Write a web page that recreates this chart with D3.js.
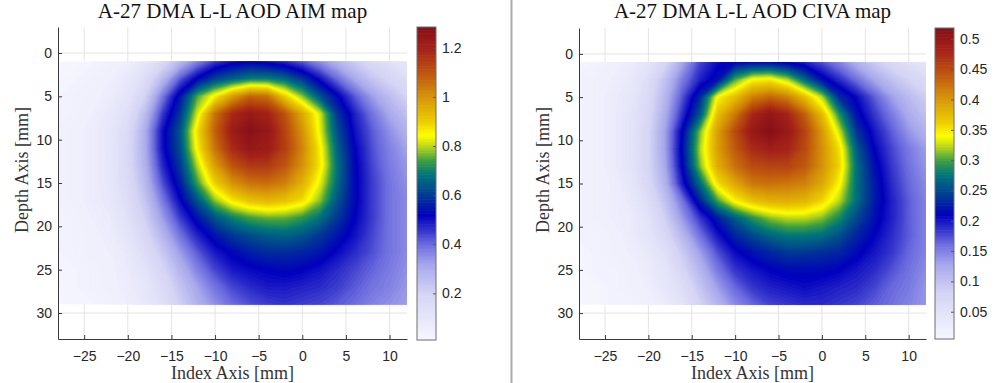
<!DOCTYPE html>
<html><head><meta charset="utf-8">
<script src="https://cdn.jsdelivr.net/npm/d3@7"></script>
<style>body{margin:0;background:#fff;} svg{display:block;}</style>
</head><body>
<svg id="c" width="1000" height="383"></svg>
<script>
// ---- data ----
const xCoords = [-28,-26,-24,-22,-20,-18,-16,-14,-12,-10,-8,-6,-4,-2,0,2,4,6,8,10,12]; // Index Axis [mm]
const yCoords = [1,3,5,7,9,11,13,15,17,19,21,23,25,27,29];                               // Depth Axis [mm]
const xTicks = [-25,-20,-15,-10,-5,0,5,10];
const yTicks = [0,5,10,15,20,25,30];

// AIM amplitude map, one row per depth in yCoords
const aimRows = [
 [0.02,0.02,0.03,0.04,0.06,0.10,0.17,0.27,0.37,0.45,0.50,0.52,0.50,0.47,0.42,0.35,0.28,0.22,0.17,0.13,0.10],
 [0.02,0.03,0.04,0.06,0.09,0.15,0.27,0.42,0.53,0.62,0.66,0.70,0.70,0.67,0.60,0.50,0.40,0.31,0.24,0.19,0.15],
 [0.03,0.04,0.05,0.07,0.11,0.20,0.38,0.55,0.75,0.86,0.98,1.07,1.05,0.90,0.78,0.64,0.53,0.42,0.33,0.26,0.20],
 [0.03,0.04,0.06,0.09,0.14,0.26,0.45,0.60,0.82,1.05,1.18,1.23,1.20,1.10,0.96,0.82,0.60,0.48,0.39,0.31,0.25],
 [0.04,0.05,0.07,0.10,0.16,0.30,0.50,0.64,0.88,1.08,1.22,1.28,1.24,1.13,1.00,0.83,0.63,0.50,0.42,0.35,0.29],
 [0.04,0.05,0.07,0.10,0.17,0.30,0.50,0.63,0.86,1.05,1.18,1.24,1.22,1.14,1.02,0.86,0.66,0.52,0.43,0.37,0.32],
 [0.04,0.05,0.07,0.10,0.17,0.29,0.47,0.60,0.80,0.98,1.10,1.15,1.15,1.10,1.00,0.87,0.68,0.53,0.44,0.38,0.34],
 [0.04,0.05,0.07,0.10,0.16,0.27,0.43,0.56,0.74,0.90,1.00,1.05,1.06,1.03,0.95,0.83,0.67,0.53,0.45,0.39,0.35],
 [0.04,0.05,0.07,0.09,0.15,0.24,0.38,0.51,0.64,0.78,0.87,0.92,0.94,0.92,0.88,0.78,0.64,0.53,0.45,0.39,0.36],
 [0.03,0.04,0.06,0.08,0.13,0.21,0.33,0.45,0.55,0.64,0.70,0.74,0.76,0.76,0.73,0.68,0.60,0.52,0.45,0.39,0.36],
 [0.03,0.04,0.05,0.07,0.11,0.18,0.28,0.39,0.48,0.55,0.60,0.63,0.65,0.66,0.64,0.60,0.55,0.50,0.44,0.39,0.36],
 [0.03,0.04,0.05,0.06,0.09,0.15,0.23,0.33,0.42,0.49,0.53,0.56,0.58,0.58,0.57,0.55,0.51,0.47,0.43,0.39,0.36],
 [0.03,0.03,0.04,0.05,0.08,0.12,0.19,0.28,0.37,0.44,0.49,0.51,0.52,0.53,0.52,0.50,0.47,0.44,0.41,0.38,0.35],
 [0.02,0.03,0.04,0.05,0.07,0.10,0.16,0.24,0.32,0.39,0.44,0.47,0.49,0.49,0.48,0.47,0.45,0.42,0.39,0.37,0.34],
 [0.02,0.03,0.03,0.04,0.06,0.09,0.14,0.21,0.29,0.35,0.40,0.43,0.45,0.46,0.45,0.44,0.42,0.40,0.37,0.35,0.33]
];

// CIVA amplitude map, one row per depth in yCoords
const civaRows = [
 [0.010,0.015,0.020,0.031,0.046,0.077,0.128,0.179,0.205,0.215,0.220,0.220,0.210,0.195,0.174,0.149,0.118,0.092,0.072,0.056,0.046],
 [0.015,0.020,0.026,0.036,0.061,0.102,0.154,0.195,0.220,0.303,0.344,0.349,0.323,0.272,0.220,0.190,0.159,0.128,0.102,0.082,0.067],
 [0.015,0.020,0.031,0.041,0.067,0.113,0.174,0.236,0.344,0.374,0.415,0.431,0.415,0.374,0.323,0.236,0.205,0.169,0.133,0.108,0.087],
 [0.015,0.020,0.031,0.046,0.072,0.123,0.190,0.262,0.374,0.420,0.477,0.503,0.482,0.436,0.374,0.292,0.220,0.185,0.154,0.123,0.102],
 [0.015,0.020,0.031,0.046,0.077,0.133,0.215,0.313,0.395,0.450,0.497,0.518,0.497,0.456,0.400,0.328,0.241,0.200,0.169,0.138,0.118],
 [0.015,0.020,0.031,0.046,0.077,0.133,0.220,0.323,0.395,0.440,0.475,0.487,0.482,0.451,0.405,0.354,0.262,0.210,0.179,0.154,0.133],
 [0.015,0.020,0.031,0.046,0.077,0.128,0.215,0.313,0.385,0.425,0.450,0.455,0.456,0.441,0.405,0.359,0.272,0.220,0.185,0.159,0.138],
 [0.015,0.020,0.026,0.041,0.072,0.118,0.200,0.272,0.354,0.390,0.420,0.425,0.421,0.415,0.390,0.344,0.272,0.226,0.190,0.164,0.144],
 [0.015,0.020,0.026,0.036,0.061,0.102,0.159,0.231,0.300,0.345,0.370,0.382,0.385,0.379,0.359,0.323,0.272,0.226,0.195,0.169,0.149],
 [0.015,0.020,0.026,0.031,0.051,0.087,0.138,0.185,0.226,0.262,0.292,0.313,0.323,0.323,0.313,0.287,0.251,0.220,0.195,0.169,0.149],
 [0.015,0.015,0.020,0.031,0.046,0.072,0.113,0.159,0.200,0.231,0.251,0.267,0.277,0.277,0.272,0.256,0.231,0.210,0.190,0.169,0.149],
 [0.010,0.015,0.020,0.026,0.036,0.056,0.092,0.133,0.174,0.205,0.220,0.231,0.241,0.241,0.236,0.231,0.215,0.200,0.185,0.164,0.149],
 [0.010,0.015,0.015,0.020,0.031,0.046,0.077,0.113,0.154,0.185,0.200,0.210,0.215,0.215,0.215,0.210,0.200,0.190,0.174,0.159,0.144],
 [0.010,0.010,0.015,0.020,0.026,0.041,0.061,0.097,0.133,0.164,0.185,0.195,0.200,0.205,0.200,0.195,0.190,0.179,0.164,0.154,0.138],
 [0.010,0.010,0.015,0.015,0.020,0.031,0.051,0.082,0.113,0.144,0.164,0.179,0.185,0.190,0.190,0.185,0.179,0.169,0.159,0.149,0.138]
];

const aimLimits = [0.01, 1.285];
const civaLimits = [0.005, 0.518];
const aimBarTicks = [0.2,0.4,0.6,0.8,1,1.2];
const aimBarLabels = ["0.2","0.4","0.6","0.8","1","1.2"];
const civaBarTicks = [0.05,0.1,0.15,0.2,0.25,0.3,0.35,0.4,0.45,0.5];
const civaBarLabels = ["0.05","0.1","0.15","0.2","0.25","0.3","0.35","0.4","0.45","0.5"];
const titles = ["A-27 DMA L-L AOD AIM map", "A-27 DMA L-L AOD CIVA map"];

// colormap (fraction of colour range -> colour)
const cmapT = [0,0.15,0.24,0.31,0.345,0.40,0.46,0.53,0.575,0.62,0.655,0.70,0.775,0.855,0.93,1];
const cmapC = ["#f7f7ff","#d4d4f5","#a8a8ec","#6969de","#3c3ccd","#0000be","#003796","#00767d","#3ca046","#b9d71e","#ffff00","#ebcd00","#d7960a","#be550f","#a52319","#870f19"];

// ---- drawing ----
const svg = d3.select("#c");
svg.append("rect").attr("width",1000).attr("height",383).attr("fill","#fff");
svg.append("line").attr("x1",511.5).attr("x2",511.5).attr("y1",0).attr("y2",383)
   .attr("stroke","#a9a9a9").attr("stroke-width",2);

const TICKFONT = "Arial, 'Liberation Sans', Helvetica, sans-serif";
const SERIF = "'Liberation Serif', 'DejaVu Serif', 'Times New Roman', serif";

const panels = [
  {id:"aim", rows:aimRows, limits:aimLimits, barTicks:aimBarTicks, barLabels:aimBarLabels, title:titles[0],
   L:58, R:407, T:27, B:339, cb:{L:417, R:436, T:27, B:340}},
  {id:"civa", rows:civaRows, limits:civaLimits, barTicks:civaBarTicks, barLabels:civaBarLabels, title:titles[1],
   L:579, R:926, T:28, B:339, cb:{L:935, R:954, T:28, B:339}}
];

panels.forEach(drawPanel);

function drawPanel(p){
  const g = svg.append("g");
  const x = d3.scaleLinear().domain([-28,12]).range([p.L,p.R]);
  const y = d3.scaleLinear().domain([-3,33]).range([p.T,p.B]);
  const [lo,hi] = p.limits;
  const color = d3.scaleLinear().domain(cmapT.map(t=>lo+t*(hi-lo))).range(cmapC)
                  .interpolate(d3.interpolateRgb).clamp(true);

  // grid
  g.append("g").selectAll("line").data(xTicks).join("line")
    .attr("x1",d=>x(d)).attr("x2",d=>x(d)).attr("y1",p.T).attr("y2",p.B)
    .attr("stroke","#e4e4e4").attr("stroke-width",1);
  g.append("g").selectAll("line").data(yTicks).join("line")
    .attr("y1",d=>y(d)).attr("y2",d=>y(d)).attr("x1",p.L).attr("x2",p.R)
    .attr("stroke","#e4e4e4").attr("stroke-width",1);

  // heat map via filled contours of the value grid
  const nx = xCoords.length, ny = yCoords.length;
  const gx = d3.scaleLinear().domain([0.5, nx-0.5]).range([xCoords[0], xCoords[nx-1]]);
  const gy = d3.scaleLinear().domain([0.5, ny-0.5]).range([yCoords[0], yCoords[ny-1]]);
  const clipId = "clip-"+p.id;
  g.append("clipPath").attr("id",clipId).append("rect")
    .attr("x",x(xCoords[0])).attr("y",y(yCoords[0]))
    .attr("width",x(xCoords[nx-1])-x(xCoords[0])).attr("height",y(yCoords[ny-1])-y(yCoords[0]));
  const values = p.rows.flat();
  const nLev = 180;
  const thresholds = d3.range(nLev).map(i=>lo+(hi-lo)*i/nLev);
  const contours = d3.contours().size([nx,ny]).thresholds(thresholds)(values);
  const proj = d3.geoTransform({point:function(a,b){ this.stream.point(x(gx(a)), y(gy(b))); }});
  const path = d3.geoPath(proj);
  g.append("g").attr("clip-path","url(#"+clipId+")")
    .selectAll("path").data(contours).join("path")
    .attr("d",path)
    .attr("fill",d=>color(d.value+(hi-lo)/nLev/2))
    .attr("stroke",d=>color(d.value+(hi-lo)/nLev/2)).attr("stroke-width",0.4);

  // axes
  const ax = g.append("g").attr("transform",`translate(0,${p.B})`)
    .call(d3.axisBottom(x).tickValues(xTicks).tickSizeInner(-4).tickSizeOuter(0).tickPadding(12));
  const ay = g.append("g").attr("transform",`translate(${p.L},0)`)
    .call(d3.axisLeft(y).tickValues(yTicks).tickSizeInner(-4).tickSizeOuter(0).tickPadding(6));
  [ax,ay].forEach(a=>{
    a.select(".domain").attr("stroke","#3a3a3a").attr("stroke-width",1);
    a.selectAll(".tick line").attr("stroke","#3a3a3a");
    a.selectAll(".tick text").attr("fill","#262626").attr("font-size",14).attr("font-family",TICKFONT);
  });

  // titles and labels
  g.append("text").attr("x",(p.L+p.R)/2).attr("y",18).attr("text-anchor","middle")
    .attr("font-family",SERIF).attr("font-size",21).attr("fill","#111").text(p.title);
  g.append("text").attr("x",(p.L+p.R)/2).attr("y",379).attr("text-anchor","middle")
    .attr("font-family",SERIF).attr("font-size",18).attr("fill","#333").text("Index Axis [mm]");
  g.append("text").attr("transform",`translate(${p.L-30},170) rotate(-90)`).attr("text-anchor","middle")
    .attr("font-family",SERIF).attr("font-size",18).attr("fill","#333").text("Depth Axis [mm]");

  // colour bar
  const cb = p.cb;
  const cy = d3.scaleLinear().domain([lo,hi]).range([cb.B,cb.T]);
  const nSteps = 200;
  const steps = d3.range(nSteps).map(i=>lo+(hi-lo)*i/nSteps);
  g.append("g").selectAll("rect").data(steps).join("rect")
    .attr("x",cb.L).attr("width",cb.R-cb.L)
    .attr("y",d=>cy(d+(hi-lo)/nSteps)).attr("height",d=>cy(d)-cy(d+(hi-lo)/nSteps)+0.6)
    .attr("fill",d=>color(d+(hi-lo)/nSteps/2));
  const cax = g.append("g").attr("transform",`translate(${cb.R},0)`)
    .call(d3.axisRight(cy).tickValues(p.barTicks).tickFormat((d,i)=>p.barLabels[i])
          .tickSizeInner(-3).tickSizeOuter(0).tickPadding(6));
  cax.select(".domain").remove();
  cax.selectAll(".tick line").attr("stroke","#555");
  cax.selectAll(".tick text").attr("fill","#262626").attr("font-size",14).attr("font-family",TICKFONT);
  g.append("rect").attr("x",cb.L).attr("y",cb.T).attr("width",cb.R-cb.L).attr("height",cb.B-cb.T)
    .attr("fill","none").attr("stroke","#6e6e6e").attr("stroke-width",1);
}
</script>
</body></html>
